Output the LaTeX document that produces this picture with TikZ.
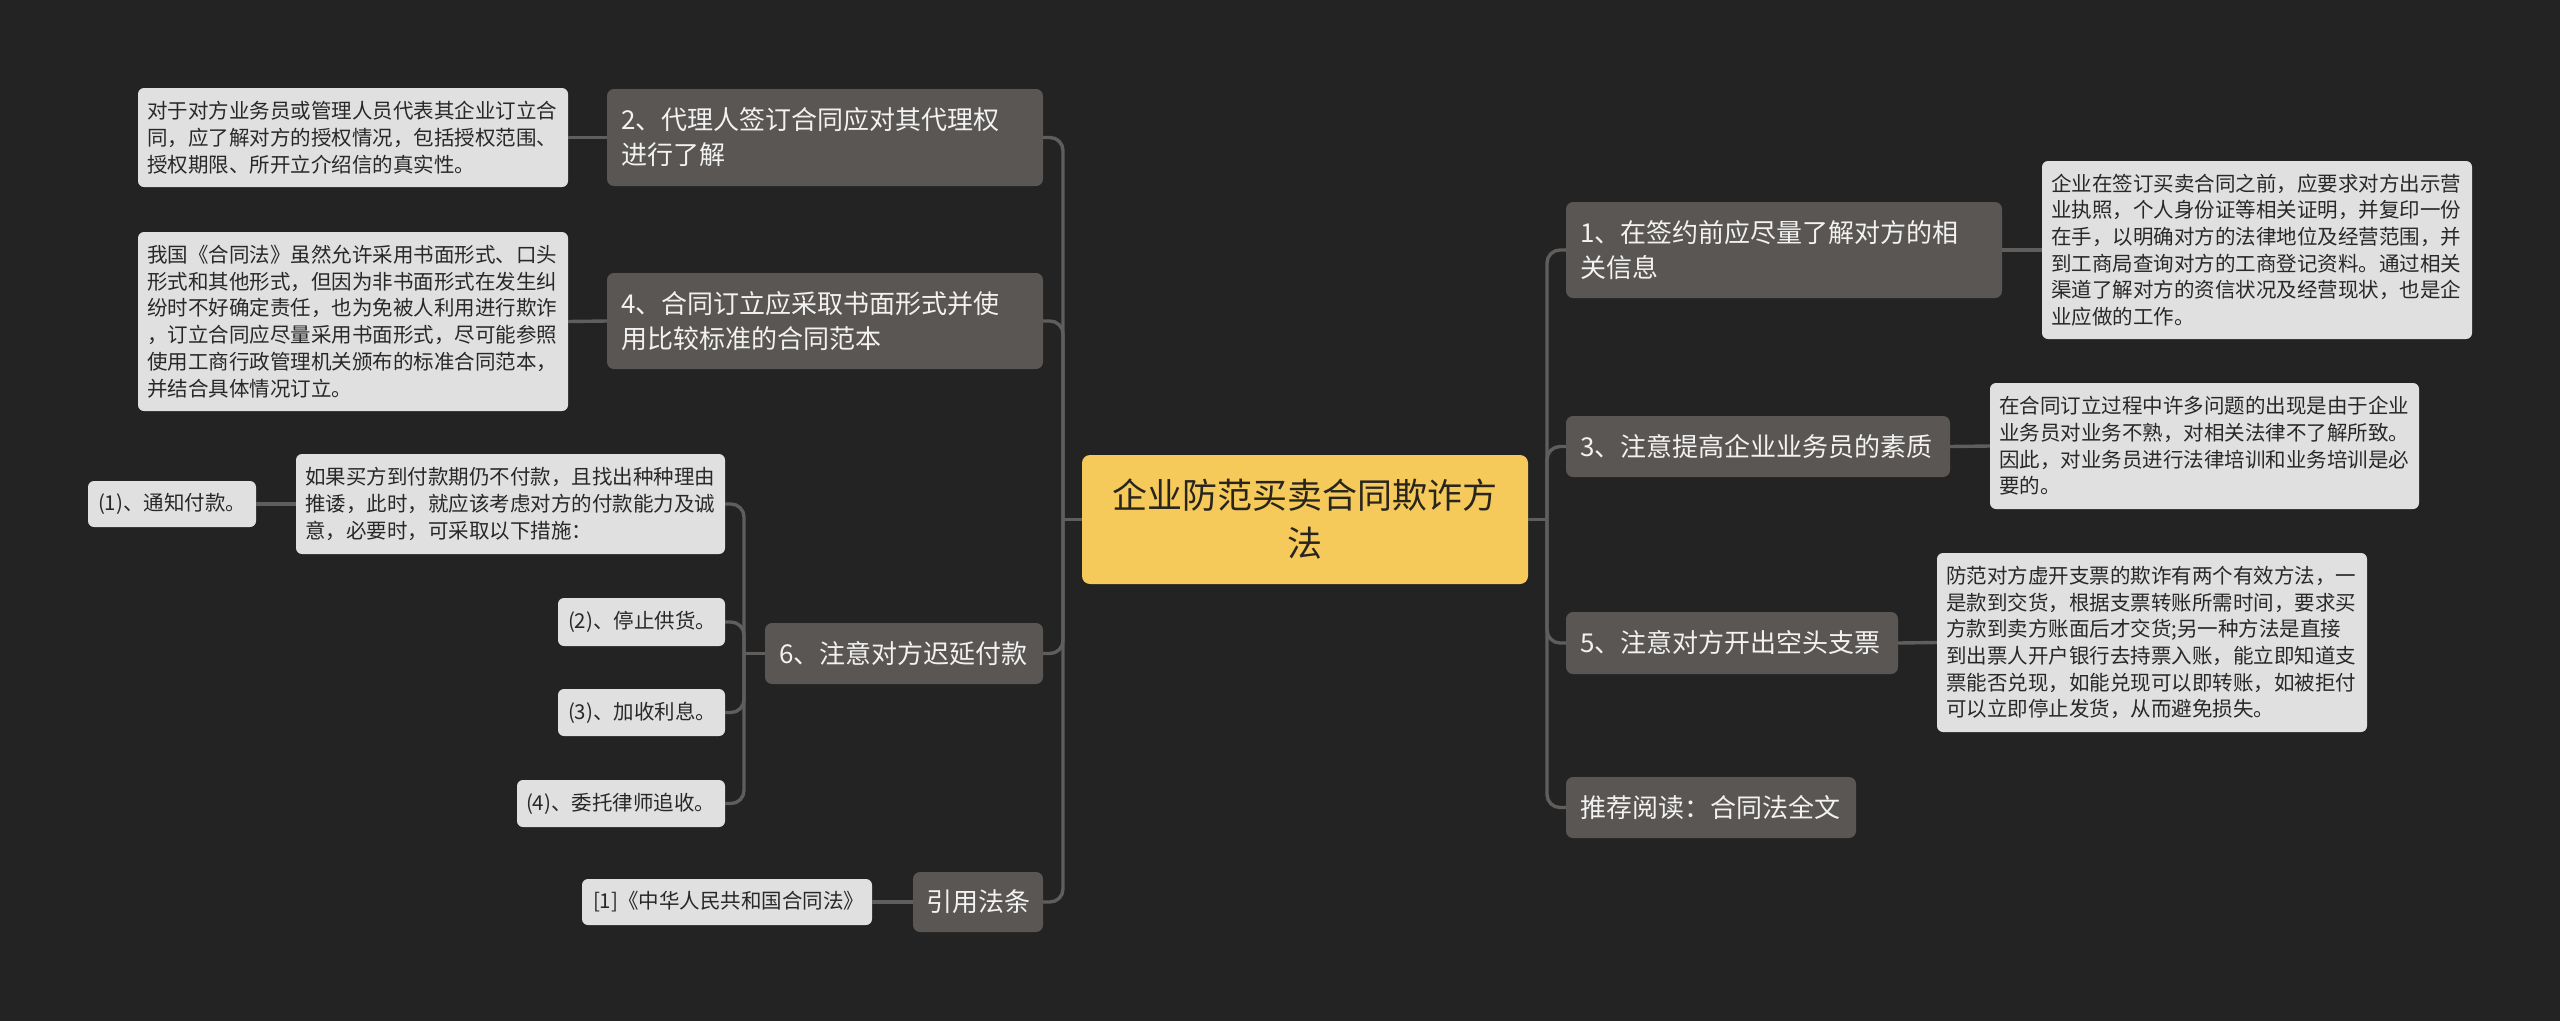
\documentclass[tikz,border=0pt]{standalone}
\usepackage{fontspec}
\setmainfont{Noto Sans CJK SC}
\definecolor{bgc}{RGB}{35,35,35}
\definecolor{mainc}{RGB}{89,86,83}
\definecolor{maintext}{RGB}{242,242,242}
\definecolor{leafc}{RGB}{224,224,224}
\definecolor{leaftext}{RGB}{40,40,40}
\definecolor{rootc}{RGB}{245,202,90}
\definecolor{roottext}{RGB}{40,36,30}
\definecolor{linec}{RGB}{96,94,92}
\tikzset{
  mainbox/.style={fill=mainc, text=maintext, rounded corners=7pt, font=\fontsize{26}{35}\selectfont, align=left, inner xsep=14pt, inner ysep=0pt},
  leafbox/.style={fill=leafc, text=leaftext, rounded corners=6pt, font=\fontsize{20.5}{26.7}\selectfont, align=left, inner xsep=9pt, inner ysep=0pt},
  rootbox/.style={fill=rootc, text=roottext, rounded corners=8pt, font=\fontsize{35}{48}\selectfont, align=center, inner sep=0pt},
  conn/.style={draw=linec, line width=3.4pt},
  bendconn/.style={conn, rounded corners=13pt}
}
\begin{document}
\begin{tikzpicture}[x=1pt,y=-1pt]
\useasboundingbox (0,0) rectangle (2560,1021);
\fill[bgc] (0,0) rectangle (2560,1021);

% root
\node[rootbox, minimum width=446pt, minimum height=129pt] (root) at (1305,519.5) {企业防范买卖合同欺诈方\\法};

% left main nodes
\node[mainbox, text width=408pt, minimum height=97pt] (n2) at (825,137.5) {2、代理人签订合同应对其代理权\\进行了解};
\node[mainbox, text width=408pt, minimum height=96pt] (n4) at (825,321) {4、合同订立应采取书面形式并使\\用比较标准的合同范本};
\node[mainbox, text width=250pt, minimum height=61pt] (n6) at (904,653.5) {6、注意对方迟延付款};
\node[mainbox, inner xsep=13pt, text width=104pt, minimum height=60pt] (nref) at (978,902) {引用法条};

% left leaves
\node[leafbox, text width=412pt, minimum height=99pt] (la) at (353,137.5) {对于对方业务员或管理人员代表其企业订立合\\同，应了解对方的授权情况，包括授权范围、\\授权期限、所开立介绍信的真实性。};
\node[leafbox, text width=412pt, minimum height=179pt] (lb) at (353,321.5) {我国《合同法》虽然允许采用书面形式、口头\\形式和其他形式，但因为非书面形式在发生纠\\纷时不好确定责任，也为免被人利用进行欺诈\\，订立合同应尽量采用书面形式，尽可能参照\\使用工商行政管理机关颁布的标准合同范本，\\并结合具体情况订立。};
\node[leafbox, text width=411pt, minimum height=100pt] (l6) at (510.5,504) {如果买方到付款期仍不付款，且找出种种理由\\推诿，此时，就应该考虑对方的付款能力及诚\\意，必要时，可采取以下措施：};
\node[leafbox, inner xsep=10pt, text width=148pt, minimum height=46pt] (l6a) at (172,504) {(1)、通知付款。};
\node[leafbox, inner xsep=10pt, text width=147pt, minimum height=48pt] (l6b) at (641.5,622) {(2)、停止供货。};
\node[leafbox, inner xsep=10pt, text width=147pt, minimum height=47pt] (l6c) at (641.5,712.5) {(3)、加收利息。};
\node[leafbox, inner xsep=9pt, text width=190pt, minimum height=47pt] (l6d) at (621,803.5) {(4)、委托律师追收。};
\node[leafbox, inner xsep=11pt, text width=268pt, minimum height=46pt] (lref) at (727,902) {[1]《中华人民共和国合同法》};

% right main nodes
\node[mainbox, text width=408pt, minimum height=96pt] (n1) at (1784,250) {1、在签约前应尽量了解对方的相\\关信息};
\node[mainbox, text width=356pt, minimum height=61pt] (n3) at (1758,446.5) {3、注意提高企业业务员的素质};
\node[mainbox, text width=304pt, minimum height=62pt] (n5) at (1732,643) {5、注意对方开出空头支票};
\node[mainbox, text width=262pt, minimum height=61pt] (nread) at (1711,807.5) {推荐阅读：合同法全文};

% right leaves
\node[leafbox, text width=412pt, minimum height=178pt] (r1) at (2257,250) {企业在签订买卖合同之前，应要求对方出示营\\业执照，个人身份证等相关证明，并复印一份\\在手，以明确对方的法律地位及经营范围，并\\到工商局查询对方的工商登记资料。通过相关\\渠道了解对方的资信状况及经营现状，也是企\\业应做的工作。};
\node[leafbox, text width=411pt, minimum height=126pt] (r3) at (2204.5,446) {在合同订立过程中许多问题的出现是由于企业\\业务员对业务不熟，对相关法律不了解所致。\\因此，对业务员进行法律培训和业务培训是必\\要的。};
\node[leafbox, text width=412pt, minimum height=179pt] (r5) at (2152,642.5) {防范对方虚开支票的欺诈有两个有效方法，一\\是款到交货，根据支票转账所需时间，要求买\\方款到卖方账面后才交货;另一种方法是直接\\到出票人开户银行去持票入账，能立即知道支\\票能否兑现，如能兑现可以即转账，如被拒付\\可以立即停止发货，从而避免损失。};

% junctions
\coordinate (jl) at (1063,519.5);
\coordinate (jr) at (1547,519.5);
\coordinate (j6) at (744,653.5);

% connectors
\draw[conn] (root.west) -- (jl);
\foreach \n in {n2,n4,n6,nref} \draw[bendconn] (jl) |- (\n.east);
\draw[conn] (root.east) -- (jr);
\foreach \n in {n1,n3,n5,nread} \draw[bendconn] (jr) |- (\n.west);
\draw[conn] (n2.west) -- (la.east);
\draw[conn] (n4.west) -- (lb.east);
\draw[conn] (nref.west) -- (lref.east);
\draw[conn] (n6.west) -- (j6);
\foreach \n in {l6,l6b,l6c,l6d} \draw[bendconn] (j6) |- (\n.east);
\draw[conn] (l6.west) -- (l6a.east);
\draw[conn] (n1.east) -- (r1.west);
\draw[conn] (n3.east) -- (r3.west);
\draw[conn] (n5.east) -- (r5.west);
\end{tikzpicture}
\end{document}
